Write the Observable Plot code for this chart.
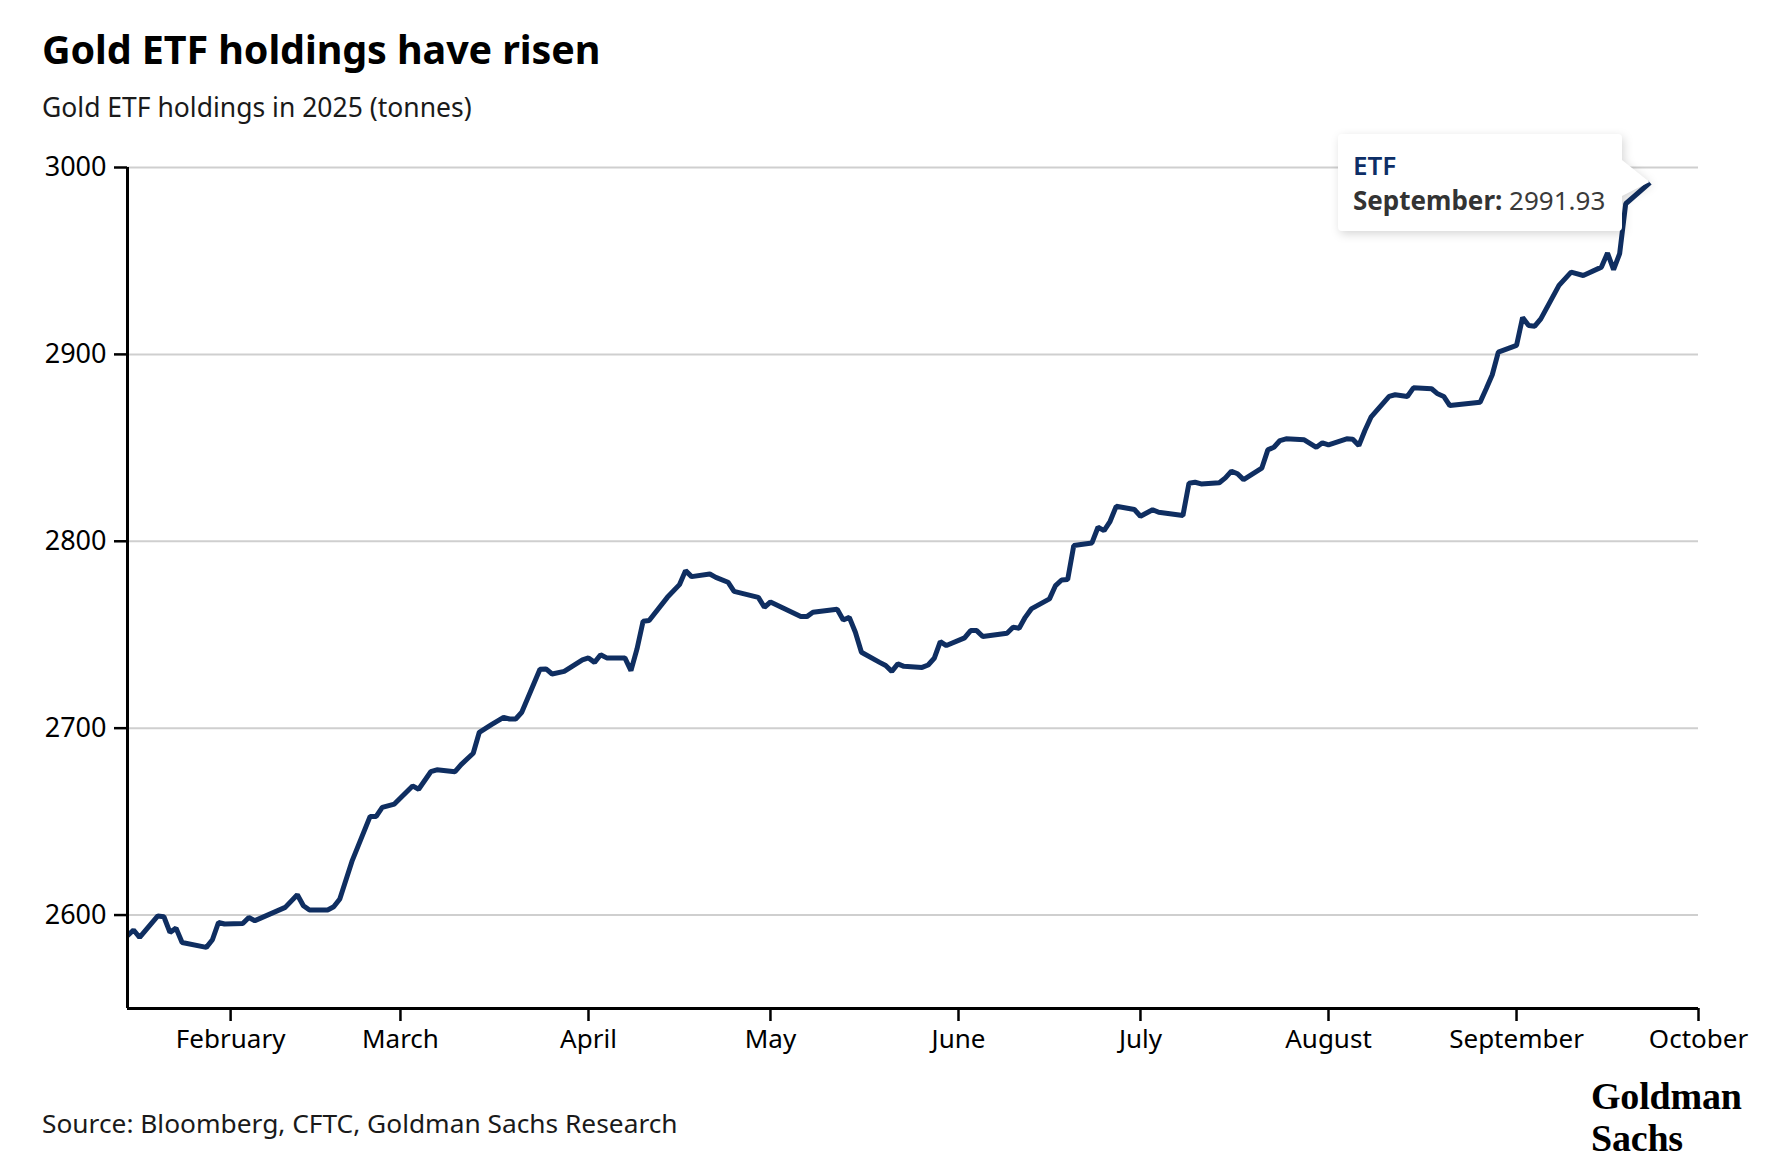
<!DOCTYPE html>
<html>
<head>
<meta charset="utf-8">
<script src="https://cdn.jsdelivr.net/npm/d3@7"></script>
<script src="https://cdn.jsdelivr.net/npm/@observablehq/plot@0.6"></script>
<style>
  html, body { margin: 0; padding: 0; background: #fff; }
  #wrap { position: relative; width: 1782px; height: 1166px; overflow: hidden; font-family: "Noto Sans", sans-serif; color: #000; }
  .abs { position: absolute; white-space: nowrap; line-height: 1; }
  #title { left: 42px; top: 30px; font-size: 39.5px; font-weight: 700; letter-spacing: -0.1px; }
  #subtitle { left: 42px; top: 94px; font-size: 26.5px; color: #1a1a1a; }
  #source { left: 42px; top: 1110px; font-size: 26.3px; color: #1a1a1a; }
  #chart { position: absolute; left: 0; top: 140px; }
  .logo { left: 1591px; font-family: "Liberation Serif", serif; font-weight: 700; font-size: 38px; line-height: 38px; letter-spacing: -0.2px; }
  #tipbg { position: absolute; left: 0; top: 0; overflow: visible; filter: drop-shadow(2px 3px 5px rgba(0,0,0,0.16)); }
  .tip { font-size: 26px; }
</style>
</head>
<body>
<div id="wrap">
  <div id="title" class="abs">Gold ETF holdings have risen</div>
  <div id="subtitle" class="abs">Gold ETF holdings in 2025 (tonnes)</div>
  <div id="chart"></div>
  <svg id="tipbg" width="1782" height="300"></svg>
  <div class="abs tip" style="left:1353px; top:152px; color:#0d2e66; font-weight:600;">ETF</div>
  <div class="abs tip" style="left:1353px; top:187px; color:#333;"><span id="tipLabel" style="font-weight:700;"></span> <span id="tipValue" style="color:#3a3a3a;"></span></div>
  <div id="source" class="abs">Source: Bloomberg, CFTC, Goldman Sachs Research</div>
  <div class="abs logo" style="top:1077px;">Goldman</div>
  <div class="abs logo" style="top:1119px;">Sachs</div>
</div>
<script>
// ---- Data ----
const dates = [
  "2025-01-15","2025-01-16","2025-01-17","2025-01-20","2025-01-21","2025-01-22","2025-01-23","2025-01-24","2025-01-28","2025-01-29",
  "2025-01-30","2025-01-31","2025-02-03","2025-02-04","2025-02-05","2025-02-10","2025-02-12","2025-02-13","2025-02-14","2025-02-17",
  "2025-02-18","2025-02-19","2025-02-21","2025-02-24","2025-02-25","2025-02-26","2025-02-28","2025-03-03","2025-03-04","2025-03-06",
  "2025-03-07","2025-03-10","2025-03-11","2025-03-13","2025-03-14","2025-03-16","2025-03-18","2025-03-19","2025-03-20","2025-03-21",
  "2025-03-24","2025-03-25","2025-03-26","2025-03-28","2025-03-31","2025-04-01","2025-04-02","2025-04-03","2025-04-04","2025-04-07",
  "2025-04-08","2025-04-09","2025-04-10","2025-04-11","2025-04-14","2025-04-16","2025-04-17","2025-04-18","2025-04-21","2025-04-22",
  "2025-04-24","2025-04-25","2025-04-29","2025-04-30","2025-05-01","2025-05-06","2025-05-07","2025-05-08","2025-05-12","2025-05-13",
  "2025-05-14","2025-05-15","2025-05-16","2025-05-19","2025-05-20","2025-05-21","2025-05-22","2025-05-23","2025-05-26","2025-05-27",
  "2025-05-28","2025-05-29","2025-05-30","2025-06-02","2025-06-03","2025-06-04","2025-06-05","2025-06-09","2025-06-10","2025-06-11",
  "2025-06-12","2025-06-13","2025-06-16","2025-06-17","2025-06-18","2025-06-19","2025-06-20","2025-06-23","2025-06-24","2025-06-25",
  "2025-06-26","2025-06-27","2025-06-30","2025-07-01","2025-07-03","2025-07-04","2025-07-08","2025-07-09","2025-07-10","2025-07-11",
  "2025-07-14","2025-07-15","2025-07-16","2025-07-17","2025-07-18","2025-07-21","2025-07-22","2025-07-23","2025-07-24","2025-07-25",
  "2025-07-28","2025-07-30","2025-07-31","2025-08-01","2025-08-04","2025-08-05","2025-08-06","2025-08-07","2025-08-08","2025-08-11",
  "2025-08-12","2025-08-14","2025-08-15","2025-08-18","2025-08-19","2025-08-20","2025-08-21","2025-08-26","2025-08-27","2025-08-28",
  "2025-08-29","2025-09-01","2025-09-02","2025-09-03","2025-09-04","2025-09-05","2025-09-08","2025-09-10","2025-09-12","2025-09-15",
  "2025-09-16","2025-09-17","2025-09-18","2025-09-19","2025-09-23"
];
const etfHoldings = [
  2588.9,2592.0,2588.0,2599.5,2599.1,2590.7,2593.0,2585.3,2582.7,2586.8,
  2596.0,2595.2,2595.5,2598.7,2597.0,2604.1,2610.9,2605.0,2602.7,2602.7,
  2604.4,2608.6,2628.7,2652.8,2652.8,2657.6,2659.4,2669.1,2667.3,2676.7,
  2677.7,2676.7,2680.5,2686.6,2697.8,2701.9,2705.8,2704.9,2704.9,2708.5,
  2731.5,2731.7,2729.0,2730.4,2736.5,2737.6,2735.2,2739.3,2737.6,2737.6,
  2730.8,2742.4,2757.2,2757.6,2770.0,2776.8,2784.3,2781.1,2782.5,2780.7,
  2778.1,2773.2,2770.0,2764.7,2767.5,2759.7,2759.7,2762.0,2763.6,2757.9,
  2759.3,2751.3,2740.6,2735.2,2733.5,2730.4,2734.4,2733.1,2732.5,2733.8,
  2737.4,2746.3,2744.2,2748.3,2752.2,2752.2,2749.0,2750.8,2754.0,2753.5,
  2759.3,2763.8,2769.2,2776.3,2779.3,2779.5,2797.7,2799.1,2807.5,2805.7,
  2810.7,2818.7,2817.0,2813.4,2816.9,2815.5,2813.8,2831.1,2831.6,2830.7,
  2831.3,2833.9,2837.5,2836.1,2833.0,2839.1,2848.9,2850.3,2853.9,2854.8,
  2854.3,2850.3,2852.7,2851.6,2854.8,2854.6,2851.2,2859.3,2866.4,2877.5,
  2878.4,2877.5,2882.1,2881.6,2878.9,2877.5,2872.6,2874.4,2881.6,2889.1,
  2901.2,2904.8,2919.7,2915.4,2915.1,2919.0,2936.9,2944.0,2942.2,2946.7,
  2954.2,2945.3,2953.9,2980.6,2991.93
];
const xDomain = ["2025-01-15", "2025-10-01"];
const monthTicks = ["2025-02-01","2025-03-01","2025-04-01","2025-05-01","2025-06-01","2025-07-01","2025-08-01","2025-09-01","2025-10-01"];
const yTicks = [2600, 2700, 2800, 2900, 3000];
const yDomain = [2550, 3000];
const seriesName = "ETF";
const tooltipLabel = "September:";
const tooltipValue = "2991.93";

// ---- Build ----
const parse = d3.utcParse("%Y-%m-%d");
const data = dates.map((d, i) => ({date: parse(d), value: etfHoldings[i]}));
const xd = xDomain.map(parse);
const mt = monthTicks.map(parse);

const W = 1782, H = 930, ML = 127, MR = 84, MT = 27, MB = 62;

const chart = Plot.plot({
  width: W, height: H,
  marginLeft: ML, marginRight: MR, marginTop: MT, marginBottom: MB,
  style: {fontFamily: "'Noto Sans', sans-serif", fontSize: "26px", color: "#000", background: "transparent", overflow: "visible"},
  x: {type: "utc", domain: xd},
  y: {domain: yDomain},
  marks: [
    Plot.ruleY(yTicks, {stroke: "#cfcfcf", strokeWidth: 2}),
    Plot.line(data, {x: "date", y: "value", stroke: "#0f2e61", strokeWidth: 5, strokeLinejoin: "miter", strokeLinecap: "butt"}),
    Plot.axisX({ticks: mt, tickFormat: d3.utcFormat("%B"), tickSize: 13, tickPadding: 8, strokeWidth: 2.5, label: null, fill: "#000"}),
    Plot.axisY({ticks: yTicks, tickFormat: d3.format("d"), tickSize: 13, tickPadding: 8, strokeWidth: 2.5, label: null, fill: "#000", fontSize: 27}),
    Plot.ruleX([xd[0]], {stroke: "#000", strokeWidth: 3}),
    Plot.ruleY([yDomain[0]], {stroke: "#000", strokeWidth: 3})
  ]
});
document.getElementById("chart").appendChild(chart);

// ---- Tooltip callout pointing to the last point ----
const last = data[data.length - 1];
const px = chart.scale("x").apply(last.date);
const py = chart.scale("y").apply(last.value) + 140;
const bx = 1338, by = 134, bw = 284, bh = 97, r = 4;
const path = [
  `M${bx + r},${by}`,
  `H${bx + bw - r}`, `Q${bx + bw},${by} ${bx + bw},${by + r}`,
  `V${py - 22}`, `L${px},${py}`, `L${bx + bw},${py + 14}`,
  `V${by + bh - r}`, `Q${bx + bw},${by + bh} ${bx + bw - r},${by + bh}`,
  `H${bx + r}`, `Q${bx},${by + bh} ${bx},${by + bh - r}`,
  `V${by + r}`, `Q${bx},${by} ${bx + r},${by}`, "Z"
].join(" ");
d3.select("#tipbg").append("path").attr("d", path).attr("fill", "#fff");
document.getElementById("tipLabel").textContent = tooltipLabel;
document.getElementById("tipValue").textContent = tooltipValue;
</script>
</body>
</html>
